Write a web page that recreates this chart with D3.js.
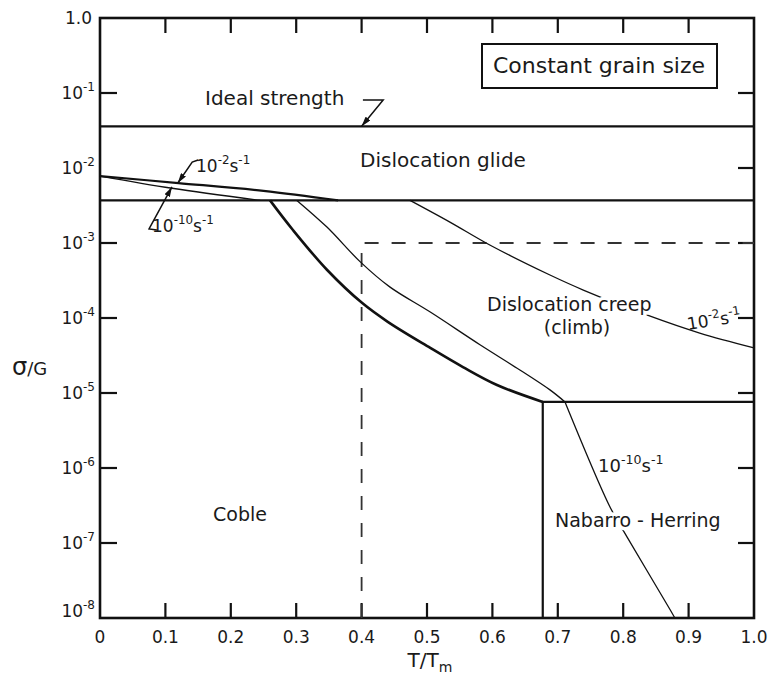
<!DOCTYPE html>
<html><head><meta charset="utf-8">
<script src="https://cdn.jsdelivr.net/npm/d3@7"></script>
<style>
body{margin:0;background:#fff}
text{font-family:"DejaVu Sans",sans-serif;fill:#1a1a1a}
</style>
</head><body>
<svg id="c" width="771" height="686"></svg>
<script>
// ---- data (T/Tm, sigma/G) ----
const xTickValues = [0,0.1,0.2,0.3,0.4,0.5,0.6,0.7,0.8,0.9,1.0];
const xTickLabels = ["0","0.1","0.2","0.3","0.4","0.5","0.6","0.7","0.8","0.9","1.0"];
const yTickValues = [1e-8,1e-7,1e-6,1e-5,1e-4,1e-3,1e-2,1e-1,1];
const yTickExponents = [-8,-7,-6,-5,-4,-3,-2,-1,null];
const leftTickValues = [1e-7,1e-6,1e-5,1e-4,1e-3,1e-1];
const rightTickValues = [1e-7,1e-6,1e-5,1e-4,1e-3,1e-2,1e-1];
const innerXTicks = [0.1,0.2,0.3,0.4,0.5,0.6,0.7,0.8,0.9];

const idealStrength = 0.036;
const glideLimit = 3.7e-3;
const glideFast = [[0,7.8e-3],[0.12,6.3e-3],[0.25,4.95e-3],[0.364,3.7e-3]];
const glideSlow = [[0,7.8e-3],[0.11,5.37e-3],[0.245,3.7e-3]];
const cobleBoundary = [[0.26,3.7e-3],[0.295,1.49e-3],[0.347,4.4e-4],[0.401,1.58e-4],[0.44,8.9e-5],[0.505,4.0e-5],[0.555,2.22e-5],[0.607,1.28e-5],[0.677,7.6e-6]];
const slowCreep = [[0.301,3.7e-3],[0.347,1.63e-3],[0.398,5.6e-4],[0.443,2.6e-4],[0.505,1.2e-4],[0.581,4.4e-5],[0.642,2.03e-5],[0.688,1.1e-5],[0.711,7.6e-6]];
const slowNH = [[0.711,7.6e-6],[0.78,3.0e-7],[0.806,1.2e-7],[0.872,1.28e-8],[0.879,1e-8]];
const fastCreep = [[0.474,3.7e-3],[0.535,1.9e-3],[0.596,9.4e-4],[0.688,3.74e-4],[0.739,2.36e-4],[0.836,1.1e-4],[0.917,6.3e-5],[1.0,4.0e-5]];
const nhCorner = [0.677,7.6e-6];
const dashCorner = [0.4,1e-3];

// annotation leader lines (data units)
const idealLeader = [[0.402,0.0807],[0.433,0.0807],[0.400,0.036]];
const fastLeader = [[0.150,0.0128],[0.141,0.0120],[0.119,6.3e-3]];
const slowLeader = [[0.087,1.49e-3],[0.075,1.54e-3],[0.110,5.6e-3]];

// ---- layout ----
const W=771,H=686, m={l:100,t:18,r:17,b:68};
const svg=d3.select("#c");
const x=d3.scaleLinear().domain([0,1]).range([m.l,W-m.r]);
const y=d3.scaleLog().domain([1e-8,1]).range([H-m.b,m.t]);
const line=d3.line().x(d=>x(d[0])).y(d=>y(d[1]));
const curve=d3.line().x(d=>x(d[0])).y(d=>y(d[1])).curve(d3.curveCatmullRom.alpha(0.5));

svg.append("defs").append("marker").attr("id","arr").attr("viewBox","0 0 10 6")
 .attr("refX",10).attr("refY",3).attr("markerWidth",10).attr("markerHeight",6)
 .attr("markerUnits","userSpaceOnUse").attr("orient","auto")
 .append("path").attr("d","M0,0 L10,3 L0,6 Z").attr("fill","#111");

// frame
svg.append("rect").attr("x",x(0)).attr("y",y(1)).attr("width",x(1)-x(0)).attr("height",y(1e-8)-y(1))
 .attr("fill","none").attr("stroke","#111").attr("stroke-width",2.6);

// inward ticks
const tk=svg.append("g");
const tickStyle=s=>s.style("stroke","#111").style("stroke-width","2.2px");
tickStyle(tk.selectAll("line.tl").data(leftTickValues).enter().append("line")
 .attr("x1",x(0)).attr("x2",x(0)+17).attr("y1",d=>y(d)).attr("y2",d=>y(d)));
tickStyle(tk.selectAll("line.tr").data(rightTickValues).enter().append("line")
 .attr("x1",x(1)).attr("x2",x(1)-16).attr("y1",d=>y(d)).attr("y2",d=>y(d)));
tickStyle(tk.selectAll("line.tb").data(innerXTicks).enter().append("line")
 .attr("x1",d=>x(d)).attr("x2",d=>x(d)).attr("y1",y(1e-8)).attr("y2",y(1e-8)-15));
tickStyle(tk.selectAll("line.tt").data(innerXTicks).enter().append("line")
 .attr("x1",d=>x(d)).attr("x2",d=>x(d)).attr("y1",y(1)).attr("y2",y(1)+15));

// tick labels
svg.append("g").selectAll("text").data(xTickValues).join("text")
 .attr("x",d=>x(d)).attr("y",y(1e-8)+25).attr("text-anchor","middle").attr("font-size",17)
 .text((d,i)=>xTickLabels[i]);
const yl=svg.append("g");
yTickValues.forEach((v,i)=>{
  const e=yTickExponents[i];
  if(e===null){
    yl.append("text").attr("x",x(0)-8).attr("y",y(v)+6).attr("text-anchor","end").attr("font-size",17).text("1.0");
  } else {
    const yy = e===-8 ? y(v)-1 : y(v)+6;
    const t=yl.append("text").attr("x",x(0)-5).attr("y",yy).attr("text-anchor","end").attr("font-size",17);
    t.append("tspan").text("10");
    t.append("tspan").attr("font-size",12).attr("dy",-8).text(String(e));
  }
});

function sci(xp,yp,parts,size,opts={}){
  const t=svg.append("text").attr("x",xp).attr("y",yp).attr("font-size",size);
  if(opts.rotate) t.attr("transform",`rotate(${opts.rotate},${xp},${yp})`);
  let up=false;
  parts.forEach(([s,sup])=>{
    const ts=t.append("tspan").text(s);
    if(sup){ts.attr("font-size",size*0.7).attr("dy",up?0:-size*0.45);up=true;}
    else {ts.attr("dy",up?size*0.45:0);up=false;}
  });
  return t;
}

svg.append("path").attr("d",line([[0,idealStrength],[1,idealStrength]])).attr("stroke","#111").attr("stroke-width",2.2).attr("fill","none");
svg.append("path").attr("d",line([[0,glideLimit],[1,glideLimit]])).attr("stroke","#111").attr("stroke-width",2.2).attr("fill","none");
svg.append("path").attr("d",line([[dashCorner[0],1e-8],dashCorner,[1,dashCorner[1]]]))
 .attr("stroke","#333").attr("stroke-width",1.8).attr("fill","none").attr("stroke-dasharray","14,13");
svg.append("path").attr("d",line([[nhCorner[0],1e-8],nhCorner,[1,nhCorner[1]]]))
 .attr("stroke","#111").attr("stroke-width",2.2).attr("fill","none");
svg.append("path").attr("d",curve(glideFast)).attr("stroke","#111").attr("stroke-width",2.2).attr("fill","none");
svg.append("path").attr("d",curve(glideSlow)).attr("stroke","#111").attr("stroke-width",1.3).attr("fill","none");
svg.append("path").attr("d",curve(cobleBoundary)).attr("stroke","#111").attr("stroke-width",2.6).attr("fill","none");
svg.append("path").attr("d",curve(slowCreep)).attr("stroke","#111").attr("stroke-width",1.3).attr("fill","none");
svg.append("path").attr("d",curve(slowNH)).attr("stroke","#111").attr("stroke-width",1.3).attr("fill","none");
svg.append("path").attr("d",curve(fastCreep)).attr("stroke","#111").attr("stroke-width",1.3).attr("fill","none");
[idealLeader,fastLeader,slowLeader].forEach(L=>{
  svg.append("path").attr("d",line(L)).attr("stroke","#111").attr("stroke-width",1.5).attr("fill","none").attr("marker-end","url(#arr)");
});

const halo=t=>t.attr("stroke","#fff").attr("stroke-width",7).attr("paint-order","stroke").attr("stroke-linejoin","round");
svg.append("text").attr("x",205).attr("y",105).attr("font-size",20).text("Ideal strength");
svg.append("text").attr("x",360).attr("y",167).attr("font-size",20).text("Dislocation glide");
halo(svg.append("text").attr("x",487).attr("y",311).attr("font-size",19).text("Dislocation creep"));
svg.append("text").attr("x",577).attr("y",334).attr("font-size",19).attr("text-anchor","middle").text("(climb)");
halo(svg.append("text").attr("x",555).attr("y",527).attr("font-size",19).text("Nabarro - Herring"));
svg.append("text").attr("x",213).attr("y",521).attr("font-size",19).text("Coble");

svg.append("rect").attr("x",482).attr("y",44).attr("width",235).attr("height",44).attr("fill","#fff").attr("stroke","#111").attr("stroke-width",2);
svg.append("text").attr("x",599).attr("y",73).attr("font-size",22).attr("text-anchor","middle").text("Constant grain size");

sci(196,172,[["10",0],["-2",1],["s",0],["-1",1]],17);
sci(152,232,[["10",0],["-10",1],["s",0],["-1",1]],17);
sci(688,330,[["10",0],["-2",1],["s",0],["-1",1]],17,{rotate:-9});
sci(598,472,[["10",0],["-10",1],["s",0],["-1",1]],18);

const xt=svg.append("text").attr("x",430).attr("y",667).attr("text-anchor","middle").attr("font-size",20);
xt.append("tspan").text("T/T");
xt.append("tspan").attr("font-size",14).attr("dy",5).text("m");
const yt=svg.append("text").attr("x",12).attr("y",375).attr("font-size",24);
yt.append("tspan").text("σ");
yt.append("tspan").attr("font-size",18).text("/G");
</script>
</body></html>
